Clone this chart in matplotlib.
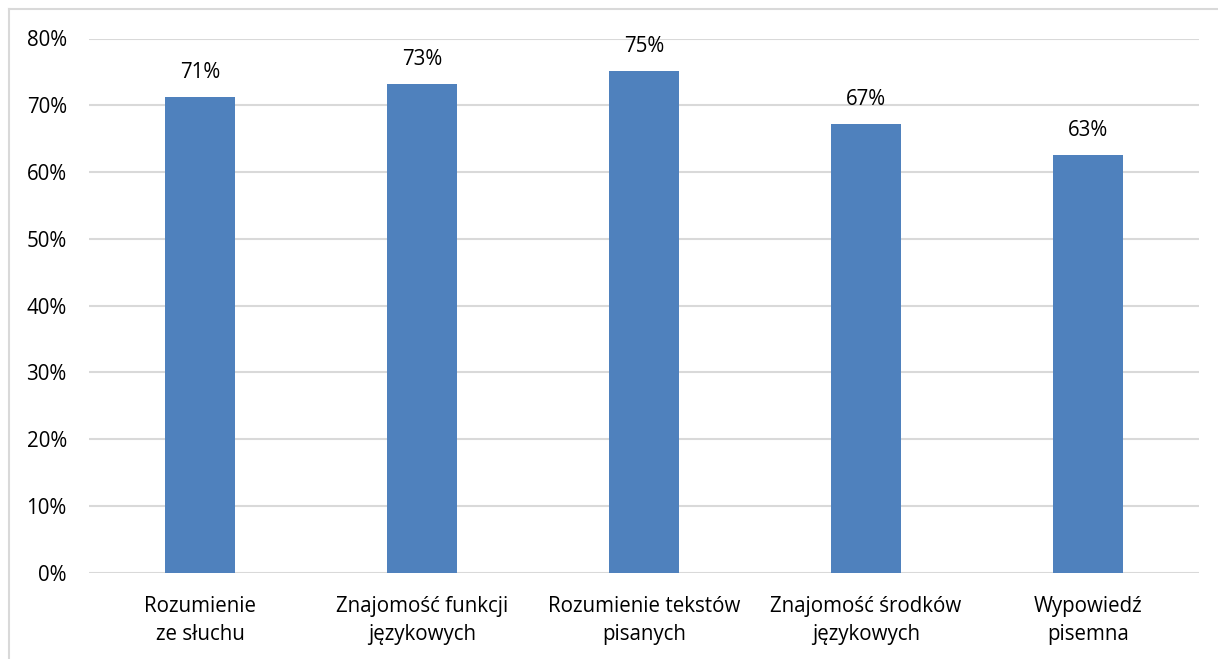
import numpy as np
import matplotlib
matplotlib.use('Agg')
import matplotlib.pyplot as plt
from matplotlib.lines import Line2D
from matplotlib.ticker import FuncFormatter

categories = ['Rozumienie\nze słuchu', 'Znajomość funkcji\njęzykowych',
              'Rozumienie tekstów\npisanych', 'Znajomość środków\njęzykowych',
              'Wypowiedź\npisemna']
values = [0.712, 0.732, 0.752, 0.672, 0.626]
labels = ['71%', '73%', '75%', '67%', '63%']
yticks = [0.0, 0.1, 0.2, 0.3, 0.4, 0.5, 0.6, 0.7, 0.8]

plt.rcParams['font.family'] = ['Open Sans', 'DejaVu Sans']
plt.rcParams['font.size'] = 14.8

fig = plt.figure(figsize=(12.18, 6.59), dpi=100)
ax = fig.add_axes([89/1218, 1 - 572.7/659, 1110/1218, (572.7 - 38.5)/659])

grid_c = '#d9d9d9'
x = np.arange(len(categories))
ax.bar(x, values, width=0.315, color='#4f81bd', zorder=3)

for xi, v, t in zip(x, values, labels):
    ax.annotate(t, (xi, v), xytext=(0, 10), textcoords='offset points',
                ha='center', va='bottom', color='#000000')

ax.set_xlim(-0.5, len(categories) - 0.5)
ax.set_ylim(0, 0.8)
ax.set_yticks(yticks)
ax.yaxis.set_major_formatter(FuncFormatter(lambda v, p: '%d%%' % round(v * 100)))
ax.set_xticks(x)
ax.set_xticklabels(categories, linespacing=1.42)
ax.grid(axis='y', color=grid_c, linewidth=1.5, zorder=0)
for s in ax.spines.values():
    s.set_visible(False)
ax.tick_params(axis='both', length=0)
ax.tick_params(axis='y', pad=16)
ax.tick_params(axis='x', pad=17)

# chart border (left and top edges visible)
fig.add_artist(Line2D([8.5/1218, 8.5/1218], [0, 1 - 9/659], color=grid_c,
                      linewidth=1.5, transform=fig.transFigure))
fig.add_artist(Line2D([8.5/1218, 1], [1 - 9/659, 1 - 9/659], color=grid_c,
                      linewidth=1.5, transform=fig.transFigure))

fig.savefig('out.png', dpi=100)
